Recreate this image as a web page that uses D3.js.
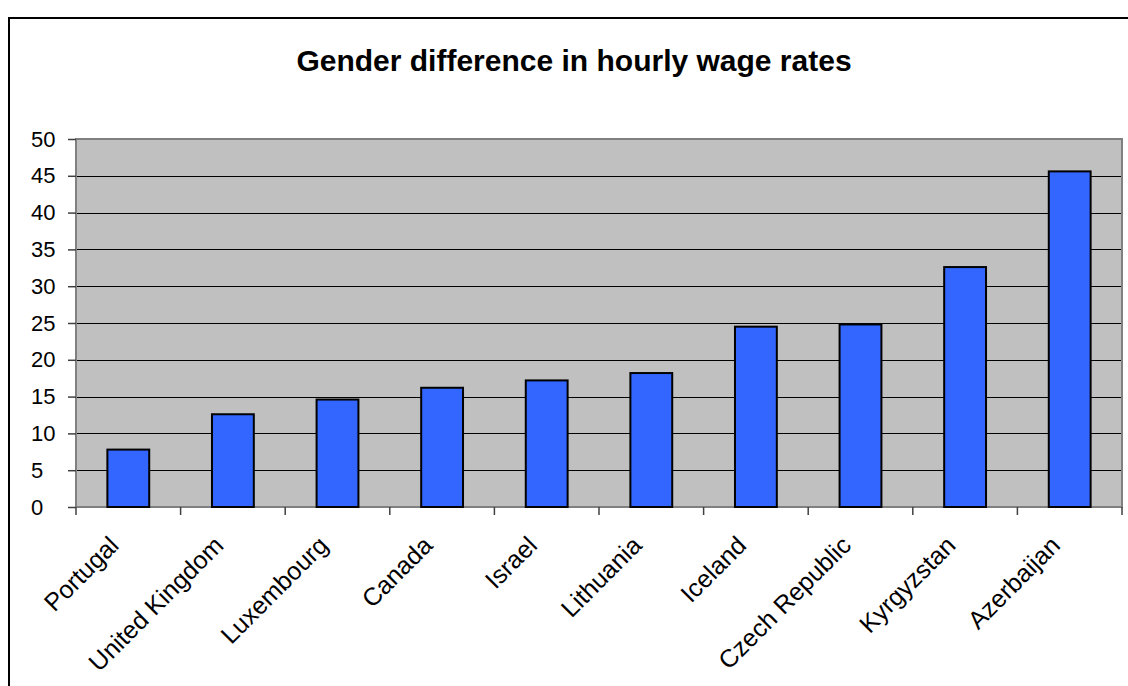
<!DOCTYPE html>
<html>
<head>
<meta charset="utf-8">
<script src="https://cdn.jsdelivr.net/npm/d3@7"></script>
<style>
  html, body { margin: 0; padding: 0; background: #ffffff; }
  svg { display: block; }
</style>
</head>
<body>
<script>
const categories = ["Portugal", "United Kingdom", "Luxembourg", "Canada", "Israel", "Lithuania", "Iceland", "Czech Republic", "Kyrgyzstan", "Azerbaijan"];
const values = [7.8, 12.6, 14.6, 16.2, 17.2, 18.2, 24.5, 24.8, 32.6, 45.6];
const yTicks = [0, 5, 10, 15, 20, 25, 30, 35, 40, 45, 50];
const title = "Gender difference in hourly wage rates";

const W = 1128, H = 686;
const plot = { left: 76, top: 139, right: 1122, bottom: 507 };
const font = "Arial, 'Liberation Sans', sans-serif";

const svg = d3.select("body").append("svg").attr("width", W).attr("height", H);

// chart area border
svg.append("rect").attr("x", 9).attr("y", 18).attr("width", 1140).attr("height", 700)
  .attr("fill", "#ffffff").attr("stroke", "#000000").attr("stroke-width", 2);

const x = d3.scaleBand().domain(categories).range([plot.left, plot.right]).paddingInner(0.6).paddingOuter(0.3);
const xTickScale = d3.scaleBand().domain(categories).range([plot.left, plot.right]);
const y = d3.scaleLinear().domain([0, 50]).range([plot.bottom, plot.top]);

// plot area
svg.append("rect").attr("x", plot.left).attr("y", plot.top)
  .attr("width", plot.right - plot.left).attr("height", plot.bottom - plot.top)
  .attr("fill", "#C0C0C0");

// gridlines
svg.append("g").selectAll("line").data(yTicks.filter(t => t > 0 && t < 50)).join("line")
  .attr("x1", plot.left).attr("x2", plot.right)
  .attr("y1", d => Math.round(y(d)) + 0.5).attr("y2", d => Math.round(y(d)) + 0.5)
  .attr("stroke", "#000000").attr("stroke-width", 1);

// plot border
svg.append("rect").attr("x", plot.left).attr("y", plot.top)
  .attr("width", plot.right - plot.left).attr("height", plot.bottom - plot.top)
  .attr("fill", "none").attr("stroke", "#808080").attr("stroke-width", 2);

// bars
svg.append("g").selectAll("rect").data(values).join("rect")
  .attr("x", (d, i) => x(categories[i]))
  .attr("width", x.bandwidth())
  .attr("y", d => y(d))
  .attr("height", d => y(0) - y(d))
  .attr("fill", "#3366FF").attr("stroke", "#000000").attr("stroke-width", 2);

// y axis (labels left-aligned as in the reference)
const yAxis = d3.axisLeft(y).tickValues(yTicks).tickSize(8).tickPadding(11);
const gy = svg.append("g").attr("transform", `translate(${plot.left},0)`).call(yAxis);
gy.select(".domain").remove();
gy.selectAll(".tick line").attr("stroke", "#404040").attr("stroke-width", 1.5);
gy.selectAll(".tick text")
  .attr("x", 31 - plot.left)
  .attr("text-anchor", "start")
  .attr("font-family", font).attr("font-size", 22).attr("fill", "#000");

// x axis ticks (between categories)
const xBoundaries = categories.map(c => xTickScale(c)).concat([plot.right]);
svg.append("g").selectAll("line").data(xBoundaries).join("line")
  .attr("x1", d => d).attr("x2", d => d)
  .attr("y1", plot.bottom).attr("y2", plot.bottom + 8)
  .attr("stroke", "#404040").attr("stroke-width", 1.5);

// x labels
svg.append("g").selectAll("text").data(categories).join("text")
  .attr("transform", d => `translate(${xTickScale(d) + xTickScale.bandwidth() / 2 - 8},${plot.bottom + 40}) rotate(-45)`)
  .attr("text-anchor", "end")
  .attr("font-family", font).attr("font-size", 25).attr("fill", "#000")
  .text(d => d);

// title
svg.append("text").attr("x", 574).attr("y", 71)
  .attr("text-anchor", "middle")
  .attr("font-family", font).attr("font-size", 30).attr("font-weight", "bold").attr("fill", "#000")
  .text(title);
</script>
</body>
</html>
